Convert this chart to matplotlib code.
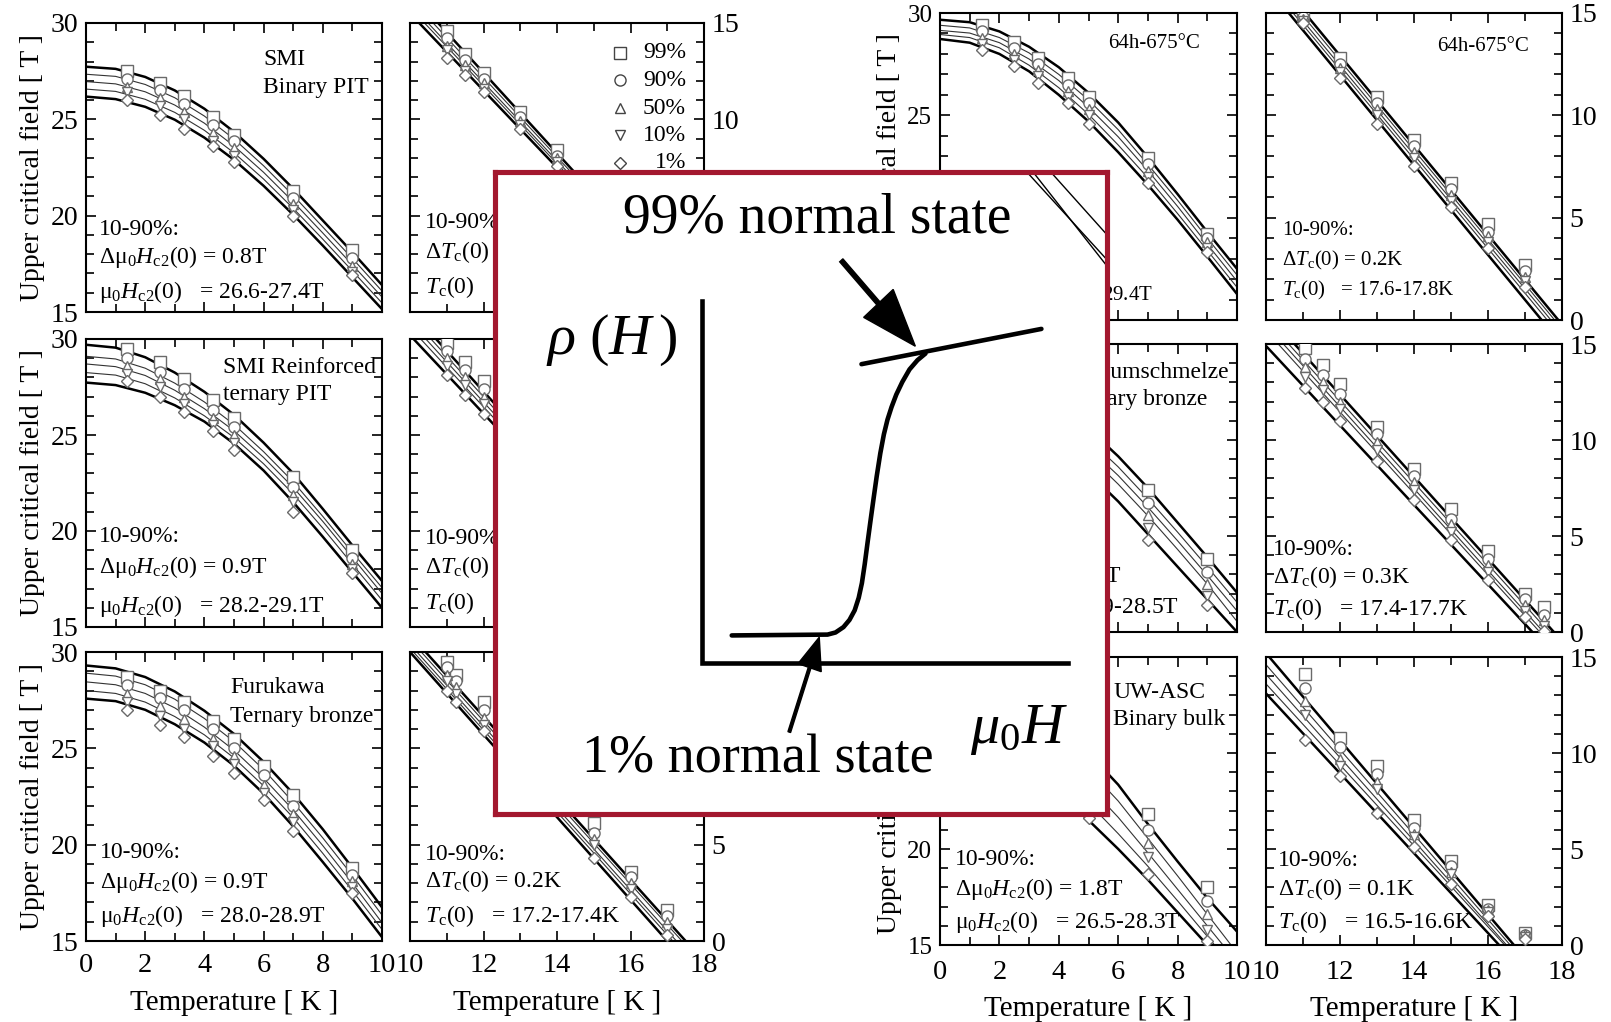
#
# Upper critical field vs temperature for several Nb3Sn wires, with the
# rho(H) transition sketch laid on top

import numpy as np
import matplotlib.pyplot as plt
from matplotlib.ticker import MultipleLocator
from matplotlib.patches import FancyArrow

plt.rcParams['font.family'] = 'Liberation Serif'
plt.rcParams['mathtext.fontset'] = 'custom'
plt.rcParams['mathtext.rm'] = 'Liberation Serif'
plt.rcParams['mathtext.it'] = 'Liberation Serif:italic'
plt.rcParams['mathtext.bf'] = 'Liberation Serif:bold'

# ---- data --------------------------------------------------------------
levels = ['99%', '90%', '50%', '10%', '1%']
fit_t = [0, 1, 2, 3, 4, 5, 6, 7, 8, 9, 10]

# SMI binary PIT
a_t = [1.4, 2.5, 3.3, 4.3, 5.0, 7.0, 9.0]
a_h = [[27.5, 26.9, 26.2, 25.1, 24.2, 21.3, 18.2],
       [27.1, 26.5, 25.8, 24.7, 23.9, 20.9, 17.8],
       [26.7, 26.1, 25.4, 24.3, 23.5, 20.6, 17.4],
       [26.4, 25.7, 25.0, 23.9, 23.1, 20.3, 17.1],
       [26.0, 25.2, 24.5, 23.6, 22.8, 20.0, 16.9]]
a_fit = [[27.73, 27.62, 27.2, 26.5, 25.55, 24.35, 22.95, 21.4, 19.75, 18.1, 16.4],
         [27.34, 27.23, 26.81, 26.12, 25.17, 23.98, 22.59, 21.05, 19.41, 17.78, 16.09],
         [26.96, 26.84, 26.43, 25.74, 24.8, 23.62, 22.25, 20.72, 19.1, 17.45, 15.78],
         [26.57, 26.45, 26.04, 25.36, 24.43, 23.26, 21.9, 20.38, 18.78, 17.13, 15.47],
         [26.18, 26.05, 25.65, 24.98, 24.05, 22.9, 21.55, 20.05, 18.45, 16.8, 15.15]]
d_t = [11.0, 11.5, 12.0, 13.0, 14.0, 15.0, 16.0, 17.0]
d_h = [[14.6, 13.4, 12.4, 10.4, 8.4, 6.2, 4.1, 2.0],
       [14.2, 13.1, 12.1, 10.1, 8.1, 6.0, 3.9, 1.8],
       [13.8, 12.8, 11.9, 9.9, 8.0, 5.8, 3.7, 1.6],
       [13.6, 12.5, 11.6, 9.7, 7.8, 5.7, 3.6, 1.5],
       [13.2, 12.3, 11.4, 9.5, 7.6, 5.5, 3.4, 1.3]]
d_h10 = [16.6, 16.3, 16.0, 15.8, 15.5]
d_tc = [17.95, 17.9, 17.85, 17.8, 17.75]

# SMI reinforced ternary PIT
b_t = [1.4, 2.5, 3.3, 4.3, 5.0, 7.0, 9.0]
b_h = [[29.5, 28.8, 27.9, 26.8, 25.9, 22.8, 19.0],
       [29.0, 28.3, 27.4, 26.3, 25.4, 22.3, 18.6],
       [28.6, 27.9, 27.0, 25.9, 25.0, 21.9, 18.3],
       [28.2, 27.5, 26.6, 25.5, 24.6, 21.5, 18.0],
       [27.8, 27.0, 26.2, 25.2, 24.2, 21.0, 17.8]]
b_fit = [[29.7, 29.55, 29.05, 28.25, 27.25, 26.05, 24.6, 23.0, 21.15, 19.25, 17.4],
         [29.1, 28.96, 28.48, 27.7, 26.72, 25.55, 24.13, 22.56, 20.76, 18.88, 17.05],
         [28.7, 28.56, 28.1, 27.33, 26.37, 25.22, 23.83, 22.27, 20.5, 18.62, 16.75],
         [28.25, 28.12, 27.67, 26.93, 26.0, 24.87, 23.5, 21.93, 20.15, 18.27, 16.4],
         [27.73, 27.6, 27.2, 26.55, 25.7, 24.55, 23.15, 21.5, 19.7, 17.85, 16.0]]
e_t = [11.0, 11.5, 12.0, 13.0, 14.0, 15.0, 16.0, 17.0]
e_h = [[14.8, 13.8, 12.8, 10.8, 8.7, 6.5, 4.3, 2.0],
       [14.4, 13.4, 12.4, 10.4, 8.3, 6.1, 3.9, 1.7],
       [14.0, 13.0, 12.0, 10.0, 7.9, 5.8, 3.6, 1.4],
       [13.6, 12.6, 11.6, 9.6, 7.5, 5.4, 3.2, 1.1],
       [13.1, 12.1, 11.1, 9.1, 7.0, 4.9, 2.8, 0.8]]
e_h10 = [16.5, 16.2, 15.9, 15.6, 15.2]
e_tc = [17.8, 17.7, 17.6, 17.55, 17.45]

# Furukawa ternary bronze
c_t = [1.4, 2.5, 3.3, 4.3, 5.0, 6.0, 7.0, 9.0]
c_h = [[28.7, 28.0, 27.4, 26.4, 25.5, 24.1, 22.6, 18.8],
       [28.3, 27.6, 27.0, 26.0, 25.0, 23.6, 22.0, 18.4],
       [27.8, 27.2, 26.5, 25.5, 24.6, 23.1, 21.6, 18.1],
       [27.4, 26.7, 26.0, 25.1, 24.2, 22.7, 21.2, 17.8],
       [27.0, 26.2, 25.6, 24.6, 23.7, 22.3, 20.7, 17.5]]
c_fit = [[29.3, 29.15, 28.7, 27.95, 26.95, 25.75, 24.3, 22.65, 20.8, 18.8, 16.75],
         [28.9, 28.75, 28.3, 27.55, 26.55, 25.35, 23.9, 22.2, 20.35, 18.4, 16.35],
         [28.45, 28.3, 27.85, 27.1, 26.1, 24.9, 23.45, 21.8, 19.95, 18.0, 15.95],
         [28.0, 27.85, 27.4, 26.65, 25.7, 24.5, 23.05, 21.4, 19.55, 17.6, 15.6],
         [27.58, 27.45, 27.0, 26.25, 25.3, 24.1, 22.65, 20.95, 19.1, 17.2, 15.2]]
f_t = [11.0, 11.25, 12.0, 13.0, 14.0, 15.0, 16.0, 17.0]
f_h = [[14.5, 13.8, 12.4, 10.5, 8.4, 6.1, 3.6, 1.6],
       [14.2, 13.5, 12.0, 10.1, 8.0, 5.6, 3.3, 1.3],
       [13.8, 13.2, 11.6, 9.8, 7.7, 5.3, 3.0, 1.0],
       [13.5, 12.8, 11.2, 9.4, 7.4, 5.0, 2.7, 0.6],
       [13.0, 12.4, 10.9, 9.0, 6.9, 4.3, 2.3, 0.3]]
f_h10 = [15.9, 15.65, 15.4, 15.2, 15.0]
f_tc = [17.5, 17.4, 17.25, 17.15, 17.0]

# 64h-675C
g_t = [1.4, 2.5, 3.3, 4.3, 5.0, 7.0, 9.0]
g_h = [[29.4, 28.6, 27.8, 26.8, 25.9, 22.9, 19.2],
       [29.1, 28.3, 27.5, 26.5, 25.6, 22.6, 19.0],
       [28.8, 28.0, 27.2, 26.2, 25.3, 22.3, 18.8],
       [28.5, 27.7, 26.9, 25.9, 25.0, 22.0, 18.5],
       [28.2, 27.4, 26.6, 25.6, 24.6, 21.7, 18.3]]
g_fit = [[29.67, 29.55, 29.1, 28.35, 27.35, 26.1, 24.65, 22.95, 21.15, 19.3, 17.5],
         [29.4, 29.27, 28.8, 28.05, 27.0, 25.75, 24.3, 22.6, 20.85, 19.0, 17.2],
         [29.15, 29.02, 28.55, 27.75, 26.7, 25.4, 23.95, 22.3, 20.55, 18.7, 16.9],
         [28.95, 28.8, 28.3, 27.45, 26.35, 25.05, 23.55, 21.95, 20.2, 18.4, 16.6],
         [28.73, 28.55, 28.0, 27.15, 26.0, 24.7, 23.2, 21.6, 19.9, 18.1, 16.27]]
h_t = [11.0, 12.0, 13.0, 14.0, 15.0, 16.0, 17.0]
h_h = [[14.9, 12.8, 10.9, 8.8, 6.7, 4.7, 2.7],
       [14.8, 12.5, 10.6, 8.5, 6.4, 4.3, 2.4],
       [14.7, 12.3, 10.3, 8.2, 6.1, 4.1, 2.1],
       [14.6, 12.1, 10.0, 7.9, 5.8, 3.8, 1.9],
       [14.5, 11.8, 9.6, 7.5, 5.5, 3.5, 1.6]]
h_h10 = [17.3, 17.05, 16.8, 16.6, 16.35]
h_tc = [17.9, 17.8, 17.7, 17.6, 17.45]

# Vacuumschmelze ternary bronze
i_t = [1.4, 2.5, 3.3, 4.3, 5.0, 7.0, 9.0]
i_h = [[28.8, 28.1, 27.5, 26.4, 25.6, 22.4, 18.8],
       [28.2, 27.5, 26.9, 25.8, 25.0, 21.7, 18.1],
       [27.8, 27.1, 26.4, 25.3, 24.5, 21.1, 17.5],
       [27.4, 26.7, 25.9, 24.8, 24.0, 20.4, 16.9],
       [26.7, 26.0, 25.2, 24.1, 23.2, 19.8, 16.4]]
i_fit = [[29.2, 29.05, 28.6, 27.85, 26.85, 25.6, 24.15, 22.5, 20.7, 18.9, 17.05],
         [28.5, 28.38, 27.95, 27.2, 26.25, 25.05, 23.6, 21.95, 20.2, 18.4, 16.55],
         [28.2, 28.07, 27.62, 26.85, 25.85, 24.6, 23.15, 21.5, 19.75, 17.95, 16.1],
         [27.9, 27.76, 27.3, 26.5, 25.47, 24.2, 22.7, 21.05, 19.3, 17.5, 15.55],
         [27.0, 26.85, 26.4, 25.6, 24.6, 23.3, 21.8, 20.1, 18.4, 16.7, 15.0]]
j_t = [11.05, 11.55, 12.0, 13.0, 14.0, 15.0, 16.0, 17.0, 17.5]
j_h = [[14.8, 13.9, 12.9, 10.7, 8.5, 6.4, 4.2, 2.0, 1.3],
       [14.2, 13.4, 12.4, 10.3, 8.1, 5.9, 3.8, 1.7, 0.9],
       [13.8, 13.0, 12.0, 9.9, 7.8, 5.6, 3.5, 1.4, 0.6],
       [13.3, 12.6, 11.6, 9.5, 7.4, 5.2, 3.1, 1.1, 0.3],
       [12.7, 12.0, 11.0, 8.9, 6.9, 4.8, 2.7, 0.8, 0.05]]
j_h10 = [16.65, 16.3, 16.0, 15.7, 14.9]
j_tc = [17.78, 17.65, 17.5, 17.4, 17.2]

# UW-ASC binary bulk
k_t = [1.4, 2.5, 3.3, 4.3, 5.0, 7.0, 9.0]
k_h = [[28.5, 27.9, 27.3, 26.2, 25.2, 21.8, 18.0],
       [27.8, 27.2, 26.5, 25.4, 24.4, 21.0, 17.3],
       [27.0, 26.4, 25.7, 24.6, 23.6, 20.3, 16.6],
       [26.2, 25.6, 24.9, 23.8, 22.8, 19.6, 15.8],
       [25.4, 24.8, 24.1, 23.0, 21.6, 18.7, 15.2]]
k_fit = [[28.8, 28.65, 28.15, 27.35, 26.3, 25.0, 23.35, 21.3, 19.35, 17.45, 15.7],
         [28.3, 28.1, 27.55, 26.7, 25.55, 24.15, 22.5, 20.55, 18.6, 16.6, 14.6],
         [27.4, 27.2, 26.65, 25.8, 24.7, 23.3, 21.65, 19.8, 17.9, 16.0, 14.1],
         [26.5, 26.3, 25.75, 24.9, 23.8, 22.4, 20.8, 19.1, 17.3, 15.45, 13.6],
         [25.8, 25.6, 25.0, 24.1, 22.9, 21.5, 20.0, 18.4, 16.7, 15.0, 13.3]]
l_t = [11.05, 12.0, 13.0, 14.0, 15.0, 16.0, 17.0]
l_h = [[14.1, 10.8, 9.3, 6.5, 4.4, 2.1, 0.6],
       [13.4, 10.3, 8.9, 6.1, 4.1, 1.9, 0.5],
       [12.7, 9.7, 8.5, 5.8, 3.8, 1.8, 0.55],
       [12.0, 9.3, 8.1, 5.6, 3.7, 1.7, 0.4],
       [10.7, 8.8, 6.9, 5.1, 3.2, 1.5, 0.3]]
l_h10 = [15.2, 14.6, 14.1, 13.6, 13.1]
l_tc = [16.7, 16.6, 16.5, 16.45, 16.3]

# rho(H) sketch, in inset units (0..1)
sk_axis_u = [0.337, 0.337, 0.935]
sk_axis_v = [0.80, 0.235, 0.235]
sk_curve_u = [0.386, 0.5425, 0.5556, 0.5686, 0.5784, 0.5869, 0.5935, 0.5987, 0.6033,
              0.6078, 0.6124, 0.6176, 0.6229, 0.6288, 0.6346, 0.6405, 0.6471, 0.6549,
              0.6647, 0.6765, 0.6895, 0.7026]
sk_curve_v = [0.2778, 0.2791, 0.2824, 0.2908, 0.302, 0.317, 0.3366, 0.3595, 0.3889,
              0.4216, 0.4542, 0.4902, 0.5261, 0.5621, 0.5915, 0.6144, 0.634, 0.6536,
              0.6732, 0.6928, 0.7072, 0.7176]
sk_normal_u = [0.598, 0.892]
sk_normal_v = [0.701, 0.756]
sk_stray_u = [[0.869, 1.0], [0.879, 1.0], [0.908, 1.0]]
sk_stray_v = [[1.0, 0.863], [1.0, 0.853], [1.0, 0.902]]

# ---- figure ------------------------------------------------------------
W, H = 1611, 1022
fig = plt.figure(figsize=(W / 100, H / 100), dpi=100)


def rect(x0, y0, x1, y1):
    return [x0 / W, 1 - y1 / H, (x1 - x0) / W, (y1 - y0) / H]


def put(x, y, s, size=17, **kw):
    fig.text(x / W, 1 - y / H, s, fontsize=size, va='baseline', **kw)


mk = ['s', 'o', '^', 'v', 'D']
msz = [8, 8, 7.5, 7.5, 6]
line_w = [1.8, 0.8, 0.8, 0.8, 1.8]
line_c = ['k', '#333333', '#333333', '#333333', 'k']
mec = '#6a6a6a'


def style(ax, lab_size, right, xlabels, xpad, lpad):
    ax.xaxis.set_major_locator(MultipleLocator(2))
    ax.xaxis.set_minor_locator(MultipleLocator(1))
    ax.yaxis.set_major_locator(MultipleLocator(5))
    ax.yaxis.set_minor_locator(MultipleLocator(1))
    ax.tick_params(which='both', direction='in', top=True, bottom=True,
                   left=True, right=True, width=1.2)
    ax.tick_params(which='major', length=7)
    ax.tick_params(which='minor', length=6)
    ax.tick_params(axis='y', labelsize=lab_size, pad=5.5)
    ax.tick_params(axis='x', labelsize=20.5, pad=xpad)
    if right:
        ax.tick_params(labelleft=False, labelright=True)
    if not xlabels:
        ax.tick_params(labelbottom=False)
    else:
        ax.set_xlabel('Temperature [ K ]', fontsize=21, labelpad=lpad)
    for s in ax.spines.values():
        s.set_linewidth(1.5)


def hc2_panel(box, t, h, fit, lab_size=20, xlabels=False, xpad=8.5, lpad=9):
    ax = fig.add_axes(rect(*box))
    for i in range(5):
        ax.plot(fit_t, fit[i], color=line_c[i], lw=line_w[i], zorder=2)
    for i in range(5):
        ax.plot(t, h[i], ls='none', marker=mk[i], ms=msz[i], mfc='white',
                mec=mec, mew=1.0, zorder=3)
    ax.set_xlim(0, 10)
    ax.set_ylim(15, 30)
    style(ax, lab_size, False, xlabels, xpad, lpad)
    ax.set_ylabel('Upper critical field [ T ]', fontsize=20, labelpad=4)
    return ax


def tc_panel(box, t, h, h10, tc, xlabels=False, xpad=8.5, lpad=9):
    ax = fig.add_axes(rect(*box))
    for i in range(5):
        ax.plot([10, tc[i]], [h10[i], 0], color=line_c[i], lw=line_w[i], zorder=2)
    for i in range(5):
        ax.plot(t, h[i], ls='none', marker=mk[i], ms=msz[i], mfc='white',
                mec=mec, mew=1.0, zorder=3)
    ax.set_xlim(10, 18)
    ax.set_ylim(0, 15)
    style(ax, 20, True, xlabels, xpad, lpad)
    return ax


# left group
hc2_panel((86, 23, 382, 312), a_t, a_h, a_fit)
hc2_panel((86, 339, 382, 627), b_t, b_h, b_fit)
hc2_panel((86, 652, 382, 941), c_t, c_h, c_fit, xlabels=True)
ax_d = tc_panel((410, 23, 704, 312), d_t, d_h, d_h10, d_tc)
tc_panel((410, 339, 704, 627), e_t, e_h, e_h10, e_tc)
tc_panel((410, 652, 704, 941), f_t, f_h, f_h10, f_tc, xlabels=True)

# right group
hc2_panel((940, 13, 1237, 320), g_t, g_h, g_fit, lab_size=18)
hc2_panel((940, 344, 1237, 632), i_t, i_h, i_fit, lab_size=18)
hc2_panel((940, 657, 1237, 945), k_t, k_h, k_fit, lab_size=18, xlabels=True,
          xpad=10.5, lpad=8)
tc_panel((1266, 13, 1562, 320), h_t, h_h, h_h10, h_tc)
tc_panel((1266, 344, 1562, 632), j_t, j_h, j_h10, j_tc)
tc_panel((1266, 657, 1562, 945), l_t, l_h, l_h10, l_tc, xlabels=True,
         xpad=10.5, lpad=8)

# key in the first Tc panel
for i, lab in enumerate(levels):
    y = 53 + 27.5 * i
    ax_d.plot([620 / W], [1 - y / H], transform=fig.transFigure, ls='none',
              marker=mk[i], ms=msz[i], mfc='white', mec='#444444', mew=1.0,
              clip_on=False)
    fig.text(686 / W, 1 - y / H, lab, fontsize=17, ha='right', va='center')

# panel notes
dH = 'Δμ$_0H_{\\mathrm{c2}}$(0) = '
H0 = 'μ$_0H_{\\mathrm{c2}}$(0)   = '
dT = 'Δ$T_{\\mathrm{c}}$(0) = '
T0 = '$T_{\\mathrm{c}}$(0)   = '

put(263, 65, 'SMI')
put(263, 93, 'Binary PIT')
put(99, 235, '10-90%:')
put(99, 263, dH + '0.8T')
put(99, 298, H0 + '26.6-27.4T')

put(223, 373, 'SMI Reinforced')
put(223, 400, 'ternary PIT')
put(99, 542, '10-90%:')
put(99, 573, dH + '0.9T')
put(99, 612, H0 + '28.2-29.1T')

put(230, 693, 'Furukawa')
put(230, 722, 'Ternary bronze')
put(100, 858, '10-90%:')
put(100, 888, dH + '0.9T')
put(100, 922, H0 + '28.0-28.9T')

put(425, 228, '10-90%:')
put(425, 258, dT + '0.2K')
put(425, 293, T0 + '17.5-17.7K')
put(425, 544, '10-90%:')
put(425, 573, dT + '0.2K')
put(425, 609, T0 + '17.5-17.7K')
put(425, 860, '10-90%:')
put(425, 887, dT + '0.2K')
put(425, 922, T0 + '17.2-17.4K')

put(1108, 48, '64h-675°C', size=15)
put(953, 244, '10-90%:', size=15)
put(953, 271, dH + '0.6T', size=15)
put(953, 300, H0 + '28.8-29.4T', size=15)
put(1437, 51, '64h-675°C', size=15)
put(1282, 235, '10-90%:', size=15)
put(1282, 265, dT + '0.2K', size=15)
put(1282, 295, T0 + '17.6-17.8K', size=15)

put(1064, 378, 'Vacuumschmelze')
put(1064, 405, 'Ternary bronze')
put(953, 553, '10-90%:')
put(953, 582, dH + '0.6T')
put(953, 613, H0 + '27.9-28.5T')
put(1273, 555, '10-90%:')
put(1273, 583, dT + '0.3K')
put(1273, 615, T0 + '17.4-17.7K')

put(1113, 698, 'UW-ASC')
put(1113, 725, 'Binary bulk')
put(955, 865, '10-90%:')
put(955, 895, dH + '1.8T')
put(955, 928, H0 + '26.5-28.3T')
put(1278, 866, '10-90%:')
put(1278, 895, dT + '0.1K')
put(1278, 928, T0 + '16.5-16.6K')

# ---- rho(H) sketch on top ---------------------------------------------
ax_in = fig.add_axes(rect(495.5, 172.5, 1107.5, 813.5), zorder=10)
ax_in.set_xlim(0, 1)
ax_in.set_ylim(0, 1)
ax_in.set_xticks([])
ax_in.set_yticks([])
for s in ax_in.spines.values():
    s.set_color('#a3182f')
    s.set_linewidth(3.7)

for su, sv in zip(sk_stray_u, sk_stray_v):
    ax_in.plot(su, sv, color='k', lw=1.0)
ax_in.plot(sk_axis_u, sk_axis_v, color='k', lw=3.3, solid_joinstyle='miter')
ax_in.plot(sk_curve_u, sk_curve_v, color='k', lw=3.3, solid_capstyle='round')
ax_in.plot(sk_normal_u, sk_normal_v, color='k', lw=3.3, solid_capstyle='round')

ax_in.add_patch(FancyArrow(0.565, 0.863, 0.121, -0.134, width=0.007,
                           head_width=0.065, head_length=0.09,
                           length_includes_head=True, color='k'))
ax_in.add_patch(FancyArrow(0.480, 0.127, 0.049, 0.148, width=0.0045,
                           head_width=0.04, head_length=0.05,
                           length_includes_head=True, color='k'))

ax_in.text(0.526, 0.928, '99% normal state', fontsize=40, ha='center', va='center')
ax_in.text(0.428, 0.085, '1% normal state', fontsize=39, ha='center', va='center')
ax_in.text(0.19, 0.739, r'$\rho\ (H\,)$', fontsize=42, ha='center', va='center')
ax_in.text(0.856, 0.131, r'$\mu_0H$', fontsize=42, ha='center', va='center')

fig.savefig('out.png', dpi=100)
